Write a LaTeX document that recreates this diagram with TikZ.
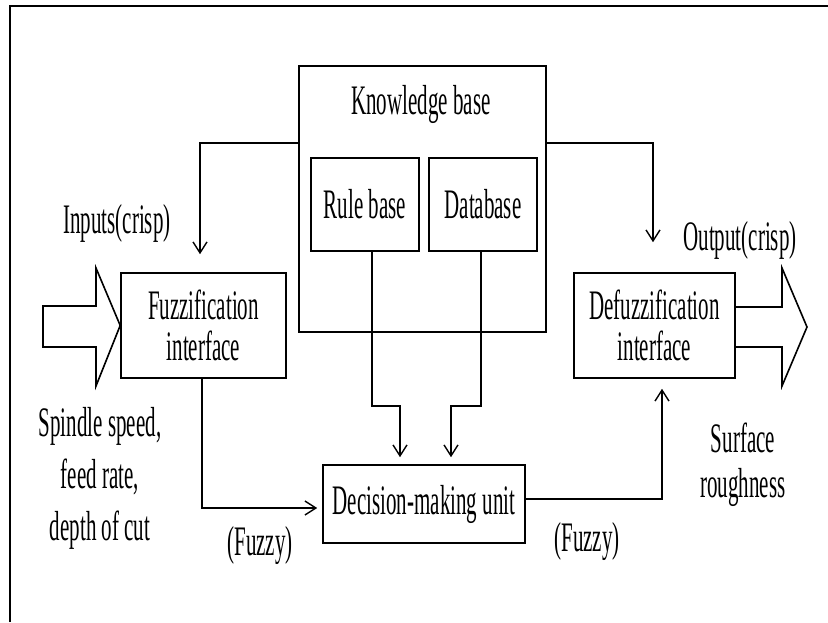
\documentclass[tikz,border=0pt]{standalone}
\usepackage{fontspec}
\setmainfont[FakeStretch=0.5]{Liberation Serif}
\usetikzlibrary{arrows.meta}
\begin{document}
\begin{tikzpicture}[x=1pt,y=-1pt,
  box/.style={draw, line width=1.6pt, inner sep=0pt, align=center},
  lbl/.style={inner sep=0pt, align=center},
  conn/.style={line width=1.4pt},
  arr/.style={conn, -{Straight Barb[length=11pt,width=14pt]}},
  fat/.style={line width=1.6pt, line join=miter},
  font=\fontsize{42}{41}\selectfont]
\useasboundingbox (0,0) rectangle (828,622);
% frame
\draw[line width=2pt] (10,622) -- (10,6) -- (828,6);
% boxes
\node[box, minimum width=247pt, minimum height=266pt] (kb) at (422.5,199) {};
\node[lbl] (kbt) at (421,104) {Knowledge base};
\node[box, minimum width=108pt, minimum height=93pt] (rb) at (365,204.5) {Rule base};
\node[box, minimum width=108pt, minimum height=93pt] (db) at (483,204.5) {Database};
\node[box, minimum width=165pt, minimum height=105pt] (fz) at (203.5,325.5) {Fuzzification\\interface};
\node[box, minimum width=161pt, minimum height=105pt] (dfz) at (654.5,325.5) {Defuzzification\\interface};
\node[box, minimum width=202pt, minimum height=78pt] (dm) at (424,504) {Decision-making unit};
% labels
\node[lbl] (inp) at (117,223) {Inputs(crisp)};
\node[lbl] (outp) at (740,240) {Output(crisp)};
\node[lbl, font=\fontsize{42}{52}\selectfont] (spd) at (100,478) {Spindle speed,\\feed rate,\\depth of cut};
\node[lbl, font=\fontsize{42}{45}\selectfont] (sr) at (743,465) {Surface\\roughness};
\node[lbl] (fl) at (260,545) {(Fuzzy)};
\node[lbl] (fr) at (587,541) {(Fuzzy)};
% connectors
\draw[arr] ([yshift=56pt]kb.west) -| ([xshift=-3.5pt,yshift=18pt]fz.north);
\draw[arr] ([yshift=56pt]kb.east) -| ([xshift=-1.5pt,yshift=30pt]dfz.north);
\draw[arr] ([xshift=7pt]rb.south) -- ++(0,154) -| ([xshift=-24pt,yshift=7pt]dm.north);
\draw[arr] ([xshift=-2pt]db.south) -- ++(0,154) -| ([xshift=27pt,yshift=7pt]dm.north);
\draw[arr] ([xshift=-1.5pt]fz.south) |- ([xshift=-5pt,yshift=-4pt]dm.west);
\draw[arr] ([yshift=5pt]dm.east) -| ([xshift=7.5pt,yshift=-10pt]dfz.south);
% fat arrows
\draw[fat] (43,306) -- (96,306) -- (96,268) -- (fz.west) -- (96,386) -- (96,347) -- (43,347) -- cycle;
\draw[fat] ([yshift=18.5pt]dfz.east) -- (782,307) -- (782,268) -- (807,327) -- (782,386) -- (782,347) -- ([yshift=-21.5pt]dfz.east);
\end{tikzpicture}
\end{document}
